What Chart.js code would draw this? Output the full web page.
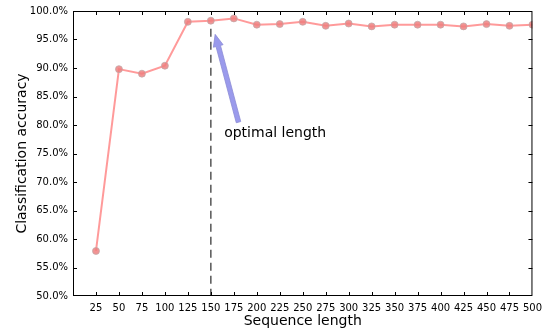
<!DOCTYPE html>
<html>
<head>
<meta charset="utf-8">
<script src="https://cdn.jsdelivr.net/npm/chart.js@4"></script>
<style>
  html, body { margin: 0; padding: 0; background: #fff; }
  #wrap { width: 548px; height: 330px; }
</style>
</head>
<body>
<div id="wrap"><canvas id="chart" width="548" height="330"></canvas></div>
<script>
// sequence length vs accuracy
const seqLengths = [25, 50, 75, 100, 125, 150, 175, 200, 225, 250, 275, 300, 325, 350, 375, 400, 425, 450, 475, 500];
const accuracy = [57.9, 89.8, 89.0, 90.4, 98.1, 98.3, 98.7, 97.6, 97.7, 98.1, 97.4, 97.8, 97.3, 97.6, 97.6, 97.6, 97.3, 97.7, 97.4, 97.6];
const optimalLength = 150;
const annotationText = 'optimal length';

const FONT = 'DejaVu Sans';

// box, inward ticks, dashed line and arrow
const decorations = {
    id: 'decorations',
    afterDatasetsDraw(chart) {
        const ctx = chart.ctx;
        const a = chart.chartArea;
        const xs = chart.scales.x, ys = chart.scales.y;
        ctx.save();

        // dashed marker at optimal length
        const ox = xs.getPixelForValue(optimalLength);
        ctx.strokeStyle = '#555';
        ctx.lineWidth = 1.5;
        ctx.setLineDash([8, 5]);
        ctx.beginPath();
        ctx.moveTo(ox, ys.getPixelForValue(96.9));
        ctx.lineTo(ox, a.bottom);
        ctx.stroke();
        ctx.setLineDash([]);

        // arrow
        const x1 = xs.getPixelForValue(180.1), y1 = ys.getPixelForValue(80.5);
        const x2 = xs.getPixelForValue(154.7), y2 = ys.getPixelForValue(95.9);
        const ang = Math.atan2(y2 - y1, x2 - x1);
        const hl = 12, hw = 5, sw = 2.3;
        const bx = x2 - hl * Math.cos(ang), by = y2 - hl * Math.sin(ang);
        const px = -Math.sin(ang), py = Math.cos(ang);
        ctx.fillStyle = '#9a9aec';
        ctx.strokeStyle = '#8c8cd6';
        ctx.lineWidth = 0.8;
        ctx.beginPath();
        ctx.moveTo(x1 + px * sw, y1 + py * sw);
        ctx.lineTo(bx + px * sw, by + py * sw);
        ctx.lineTo(bx + px * hw, by + py * hw);
        ctx.lineTo(x2, y2);
        ctx.lineTo(bx - px * hw, by - py * hw);
        ctx.lineTo(bx - px * sw, by - py * sw);
        ctx.lineTo(x1 - px * sw, y1 - py * sw);
        ctx.closePath();
        ctx.fill();
        ctx.stroke();

        ctx.fillStyle = '#000';
        ctx.font = '14px ' + FONT;
        ctx.textAlign = 'left';
        ctx.textBaseline = 'middle';
        ctx.fillText(annotationText, xs.getPixelForValue(164.5), ys.getPixelForValue(78.6));

        // frame
        ctx.strokeStyle = '#000';
        ctx.lineWidth = 1;
        ctx.strokeRect(a.left + 0.5, a.top + 0.5, a.right - a.left - 1, a.bottom - a.top - 1);

        // inward ticks on all sides
        ctx.beginPath();
        xs.ticks.forEach(t => {
            if (t.value <= xs.min || t.value >= xs.max) return;
            const x = Math.round(xs.getPixelForValue(t.value)) + 0.5;
            ctx.moveTo(x, a.bottom); ctx.lineTo(x, a.bottom - 4);
            ctx.moveTo(x, a.top); ctx.lineTo(x, a.top + 4);
        });
        ys.ticks.forEach(t => {
            if (t.value <= ys.min || t.value >= ys.max) return;
            const y = Math.round(ys.getPixelForValue(t.value)) + 0.5;
            ctx.moveTo(a.left, y); ctx.lineTo(a.left + 4, y);
            ctx.moveTo(a.right, y); ctx.lineTo(a.right - 4, y);
        });
        ctx.stroke();
        ctx.restore();
    }
};

new Chart(document.getElementById('chart'), {
    type: 'line',
    data: {
        datasets: [{
            data: seqLengths.map((x, i) => ({ x: x, y: accuracy[i] })),
            borderColor: 'rgba(255, 120, 120, 0.75)',
            borderWidth: 2,
            pointRadius: 3.5,
            pointBackgroundColor: 'rgba(238, 128, 128, 0.85)',
            pointBorderColor: 'rgba(190, 170, 170, 0.7)',
            pointBorderWidth: 1,
            tension: 0,
            fill: false
        }]
    },
    options: {
        responsive: false,
        animation: false,
        devicePixelRatio: 1,
        layout: { padding: { top: 10, right: 15, left: 14, bottom: 0 } },
        plugins: {
            legend: { display: false },
            tooltip: { enabled: false }
        },
        scales: {
            x: {
                type: 'linear',
                min: 0,
                max: 500,
                afterFit: s => { s.height = 34; },
                grid: { display: false, drawTicks: false },
                border: { display: false },
                ticks: {
                    stepSize: 25,
                    autoSkip: false,
                    maxRotation: 0,
                    padding: 6,
                    color: '#000',
                    font: { family: FONT, size: 10 },
                    callback: v => v === 0 ? '' : String(v)
                },
                title: {
                    display: true,
                    text: 'Sequence length',
                    color: '#000',
                    font: { family: FONT, size: 14 },
                    padding: { top: 0, bottom: 0 }
                }
            },
            y: {
                min: 50,
                max: 100,
                afterFit: s => { s.width = 59; },
                grid: { display: false, drawTicks: false },
                border: { display: false },
                ticks: {
                    stepSize: 5,
                    padding: 5,
                    color: '#000',
                    font: { family: FONT, size: 10 },
                    callback: v => v.toFixed(1) + '%'
                },
                title: {
                    display: true,
                    text: 'Classification accuracy',
                    color: '#000',
                    font: { family: FONT, size: 14 },
                    padding: { top: 0, bottom: 4 }
                }
            }
        }
    },
    plugins: [decorations]
});
</script>
</body>
</html>
